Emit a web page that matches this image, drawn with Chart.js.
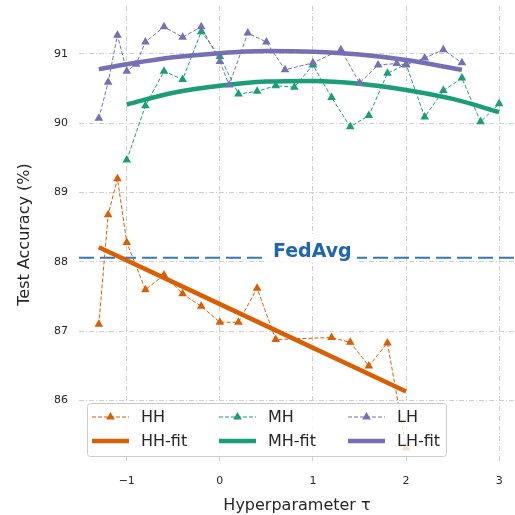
<!DOCTYPE html>
<html>
<head>
<meta charset="utf-8">
<script src="https://cdn.jsdelivr.net/npm/chart.js@4.4.1/dist/chart.umd.min.js"></script>
<style>
  html, body { margin: 0; padding: 0; background: #fff; }
  #wrap { width: 515px; height: 515px; }
</style>
</head>
<body>
<div id="wrap"><canvas id="tauChart"></canvas></div>
<script>
// values
const hhX = [-1.3, -1.2, -1.1, -1.0, -0.8, -0.6, -0.4, -0.2, 0, 0.2, 0.4, 0.6, 1.2, 1.4, 1.6, 1.8, 2.0];
const hhY = [87.10, 88.68, 89.20, 88.28, 87.60, 87.81, 87.54, 87.36, 87.13, 87.13, 87.62, 86.88, 86.91, 86.84, 86.50, 86.83, 85.32];

const mhX = [-1.0, -0.8, -0.6, -0.4, -0.2, 0, 0.2, 0.4, 0.6, 0.8, 1.0, 1.2, 1.4, 1.6, 1.8, 2.0, 2.2, 2.4, 2.6, 2.8, 3.0];
const mhY = [89.47, 90.25, 90.75, 90.63, 91.32, 90.96, 90.42, 90.46, 90.54, 90.52, 90.84, 90.37, 89.95, 90.11, 90.72, 90.85, 90.09, 90.47, 90.65, 90.02, 90.28];

const lhX = [-1.3, -1.2, -1.1, -1.0, -0.9, -0.8, -0.6, -0.4, -0.2, 0, 0.1, 0.3, 0.5, 0.7, 1.0, 1.3, 1.5, 1.7, 1.9, 2.0, 2.2, 2.4, 2.6];
const lhY = [90.07, 90.59, 91.27, 90.75, 90.85, 91.17, 91.39, 91.24, 91.39, 90.89, 90.55, 91.30, 91.17, 90.77, 90.87, 91.06, 90.58, 90.84, 90.86, 90.84, 90.94, 91.06, 90.87];

const hhFitX = [-1.3, 2.0];
const hhFitY = [88.21, 86.13];
const mhFitX = [-1.0, -0.5, 0, 0.5, 1.0, 1.5, 2.0, 2.5, 3.0];
const mhFitY = [90.27, 90.44, 90.54, 90.60, 90.61, 90.57, 90.48, 90.35, 90.16];
const lhFitX = [-1.3, -1.0, -0.5, 0, 0.5, 1.0, 1.5, 2.0, 2.6];
const lhFitY = [90.78, 90.85, 90.95, 91.01, 91.04, 91.03, 90.99, 90.91, 90.77];

const fedAvg = 88.06;
const xTicks = [-1, 0, 1, 2, 3];
const yTicks = [86, 87, 88, 89, 90, 91];

const pts = (xs, ys) => xs.map((x, i) => ({x: x, y: ys[i]}));

const FONT = "'DejaVu Sans', sans-serif";
const TXT = '#262626';
const GRID = '#cfcfcf';

function rawLine(name, xs, ys, color, order) {
  return {
    label: name,
    data: pts(xs, ys),
    borderColor: color,
    backgroundColor: color,
    borderWidth: 1,
    borderDash: [4, 2],
    pointStyle: 'triangle',
    pointRadius: 5,
    pointBorderWidth: 0,
    pointHoverRadius: 5,
    tension: 0,
    order: order
  };
}
function fitLine(name, xs, ys, color, order) {
  return {
    label: name,
    data: pts(xs, ys),
    borderColor: color,
    backgroundColor: color,
    borderWidth: 4.5,
    pointRadius: 0,
    cubicInterpolationMode: 'monotone',
    order: order,
    isFit: true
  };
}

const fedAvgPlugin = {
  id: 'fedAvg',
  beforeDatasetsDraw(chart) {
    const {ctx, chartArea, scales} = chart;
    const y = scales.y.getPixelForValue(fedAvg);
    ctx.save();
    ctx.strokeStyle = '#3478bd';
    ctx.lineWidth = 2;
    ctx.setLineDash([15, 6]);
    ctx.beginPath();
    ctx.moveTo(chartArea.left, y);
    ctx.lineTo(chartArea.right, y);
    ctx.stroke();
    ctx.setLineDash([]);
    ctx.fillStyle = '#ffffff';
    ctx.fillRect(265, y - 22, 92, 26);
    ctx.fillStyle = '#1f66b0';
    ctx.font = "bold 19px " + FONT;
    ctx.textAlign = 'left';
    ctx.textBaseline = 'alphabetic';
    ctx.fillText('FedAvg', 273, y - 1);
    ctx.restore();
  }
};

const boxLegend = {
  id: 'boxLegend',
  afterDraw(chart) {
    const ctx = chart.ctx;
    const ds = chart.data.datasets;
    const bx = 87.5, by = 403.5, bw = 359, bh = 53;
    ctx.save();
    ctx.beginPath();
    ctx.roundRect(bx, by, bw, bh, 3);
    ctx.fillStyle = 'rgba(255,255,255,0.8)';
    ctx.fill();
    ctx.strokeStyle = '#cccccc';
    ctx.lineWidth = 1;
    ctx.stroke();

    const colX = [92, 219, 348];
    const rowY = [417, 441];
    const hLen = 37;
    ctx.font = "16px " + FONT;
    ctx.textBaseline = 'middle';
    ds.forEach(function (d, i) {
      const col = Math.floor(i / 2), row = i % 2;
      const x0 = colX[col], y0 = rowY[row];
      ctx.strokeStyle = d.borderColor;
      if (d.isFit) {
        ctx.lineWidth = 4.5;
        ctx.setLineDash([]);
      } else {
        ctx.lineWidth = 1;
        ctx.setLineDash([4, 2]);
      }
      ctx.beginPath();
      ctx.moveTo(x0, y0);
      ctx.lineTo(x0 + hLen, y0);
      ctx.stroke();
      ctx.setLineDash([]);
      if (!d.isFit) {
        const cx = x0 + hLen / 2, r = 5;
        ctx.fillStyle = d.borderColor;
        ctx.beginPath();
        ctx.moveTo(cx, y0 - r);
        ctx.lineTo(cx + r * 0.866, y0 + r * 0.5);
        ctx.lineTo(cx - r * 0.866, y0 + r * 0.5);
        ctx.closePath();
        ctx.fill();
      }
      ctx.fillStyle = TXT;
      ctx.fillText(d.label, x0 + 49, y0 + 1);
    });
    ctx.restore();
  }
};

const tauChart = document.getElementById('tauChart');

new Chart(tauChart, {
  type: 'line',
  data: {
    datasets: [
      rawLine('HH', hhX, hhY, '#d95f02', 6),
      fitLine('HH-fit', hhFitX, hhFitY, '#d95f02', 5),
      rawLine('MH', mhX, mhY, '#1b9e77', 4),
      fitLine('MH-fit', mhFitX, mhFitY, '#1b9e77', 3),
      rawLine('LH', lhX, lhY, '#7570b3', 2),
      fitLine('LH-fit', lhFitX, lhFitY, '#7570b3', 1)
    ]
  },
  options: {
    responsive: true,
    maintainAspectRatio: false,
    animation: false,
    layout: { autoPadding: false, padding: { top: 6, right: 0, bottom: 0, left: 0 } },
    plugins: {
      legend: { display: false },
      tooltip: { enabled: false }
    },
    scales: {
      x: {
        type: 'linear',
        min: -1.513,
        max: 3.17,
        afterBuildTicks: function (s) { s.ticks = xTicks.map(v => ({value: v})); },
        afterFit: function (s) { s.height = 52; s.paddingLeft = 0; s.paddingRight = 0; },
        border: { display: false, dash: [5, 2, 1, 2] },
        grid: { color: GRID, lineWidth: 1, drawTicks: false },
        ticks: {
          padding: 12,
          color: TXT,
          font: { family: FONT, size: 11 },
          callback: function (v) { return v < 0 ? '\u2212' + Math.abs(v) : String(v); }
        },
        title: {
          display: true,
          text: 'Hyperparameter \u03c4',
          color: TXT,
          font: { family: FONT, size: 16 },
          padding: { top: 0, bottom: 0 }
        }
      },
      y: {
        min: 85.10,
        max: 91.69,
        afterBuildTicks: function (s) { s.ticks = yTicks.map(v => ({value: v})); },
        afterFit: function (s) { s.width = 79; s.paddingTop = 0; s.paddingBottom = 0; },
        border: { display: false, dash: [5, 2, 1, 2] },
        grid: { color: GRID, lineWidth: 1, drawTicks: false },
        ticks: {
          padding: 11,
          color: TXT,
          font: { family: FONT, size: 11 }
        },
        title: {
          display: true,
          text: 'Test Accuracy (%)',
          color: TXT,
          font: { family: FONT, size: 16 },
          padding: { top: 15, bottom: 0 }
        }
      }
    }
  },
  plugins: [fedAvgPlugin, boxLegend]
});
</script>
</body>
</html>
